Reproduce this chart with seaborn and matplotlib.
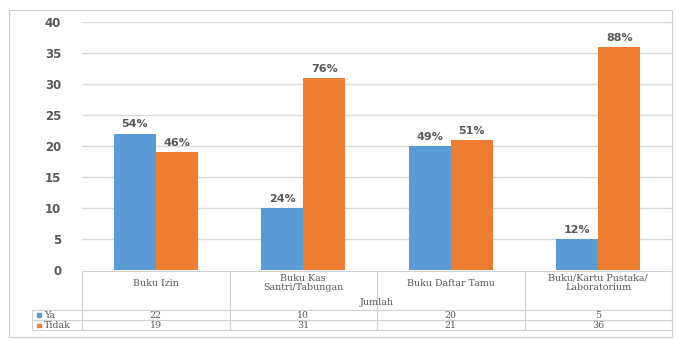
import matplotlib
matplotlib.use("Agg")
import matplotlib.pyplot as plt
import matplotlib.transforms as mtransforms
from matplotlib.lines import Line2D
from matplotlib.patches import Rectangle
import seaborn as sns
import pandas as pd

# Data
categories = ["Buku Izin", "Buku Kas\nSantri/Tabungan", "Buku Daftar Tamu",
              "Buku/Kartu Pustaka/\nLaboratorium"]
series_names = ["Ya", "Tidak"]
ya_values = [22, 10, 20, 5]
tidak_values = [19, 31, 21, 36]
ya_pct = ["54%", "24%", "49%", "12%"]
tidak_pct = ["46%", "76%", "51%", "88%"]
table_axis_title = "Jumlah"
y_ticks = [0, 5, 10, 15, 20, 25, 30, 35, 40]

BLUE = "#5B9BD5"
ORANGE = "#ED7D31"
TEXT = "#595959"
GRID = "#D9D9D9"
BORDER = "#D0D0D0"

df = pd.DataFrame({
    "cat": categories * 2,
    "series": [series_names[0]] * 4 + [series_names[1]] * 4,
    "value": ya_values + tidak_values,
})

sns.set_theme(style="white")
plt.rcParams["font.family"] = ["DejaVu Sans"]

W, H = 677, 339
fig = plt.figure(figsize=(W / 100, H / 100), dpi=100)
fig.patch.set_facecolor("white")

def fx(px):
    return px / W

def fy(py):
    return 1 - py / H

ax = fig.add_axes([fx(82), fy(270), fx(672) - fx(82), fy(22) - fy(270)])
sns.barplot(data=df, x="cat", y="value", hue="series", order=categories,
            hue_order=series_names, palette=[BLUE, ORANGE], width=0.57,
            gap=0, saturation=1, legend=False, ax=ax, zorder=3,
            linewidth=0, edgecolor="none")

ax.set_xlim(-0.5, len(categories) - 0.5)
ax.set_ylim(0, 40)
ax.set_yticks(y_ticks)
ax.set_yticklabels([str(t) for t in y_ticks], fontsize=8.5, color=TEXT,
                   fontweight="bold")
ax.tick_params(axis="y", length=0, pad=15)
ax.set_xticks([])
ax.set_xlabel("")
ax.set_ylabel("")
for s in ax.spines.values():
    s.set_visible(False)
ax.yaxis.grid(True, color=GRID, linewidth=1, zorder=0)
ax.set_axisbelow(True)

# Percentage labels above each bar
for container, labels in zip(ax.containers, [ya_pct, tidak_pct]):
    ax.bar_label(container, labels=labels, padding=3, fontsize=8,
                 color=TEXT, fontweight="bold")

# Outer chart border
fig.add_artist(Rectangle((fx(9), fy(337)), fx(672) - fx(9), fy(10) - fy(337),
                         transform=fig.transFigure, fill=False,
                         edgecolor=BORDER, linewidth=0.8))

# Data table below the plot
bt = mtransforms.blended_transform_factory(ax.transData, fig.transFigure)
n = len(categories)
x_left_data = ax.transData.inverted().transform((fx(32) * W, 0))[0]

def hline(y, x0, x1):
    fig.add_artist(Line2D([x0, x1], [fy(y), fy(y)], transform=bt,
                          color=BORDER, linewidth=0.8))

def vline(x, y0, y1):
    fig.add_artist(Line2D([x, x], [fy(y0), fy(y1)], transform=bt,
                          color=BORDER, linewidth=0.8))

hline(271, -0.5, n - 0.5)
for y in (310, 320, 330):
    hline(y, x_left_data, n - 0.5)
for i in range(n + 1):
    vline(i - 0.5, 271, 330)
vline(x_left_data, 310, 330)

serif = ["DejaVu Serif"]
fs = 6.8
for i, cat in enumerate(categories):
    fig.text(i, fy(283), cat, transform=bt, ha="center", va="center",
             fontsize=fs, color=TEXT, family=serif, linespacing=1.1)
    fig.text(i, fy(315), str(ya_values[i]), transform=bt, ha="center",
             va="center", fontsize=fs, color=TEXT, family=serif)
    fig.text(i, fy(325.5), str(tidak_values[i]), transform=bt, ha="center",
             va="center", fontsize=fs, color=TEXT, family=serif)
fig.text((n - 1) / 2, fy(302.5), table_axis_title, transform=bt,
         ha="center", va="center", fontsize=fs, color=TEXT, family=serif)

# Legend keys in the table's first column
for y, name, col in [(315, series_names[0], BLUE), (325.5, series_names[1], ORANGE)]:
    fig.add_artist(Rectangle((fx(37), fy(y) - 1.5 / H), 3.5 / W, 3.5 / H,
                             transform=fig.transFigure, color=col))
    fig.text(fx(44), fy(y), name, ha="left", va="center", fontsize=fs,
             color=TEXT, family=serif)

fig.savefig("out.png", dpi=100, facecolor="white")
